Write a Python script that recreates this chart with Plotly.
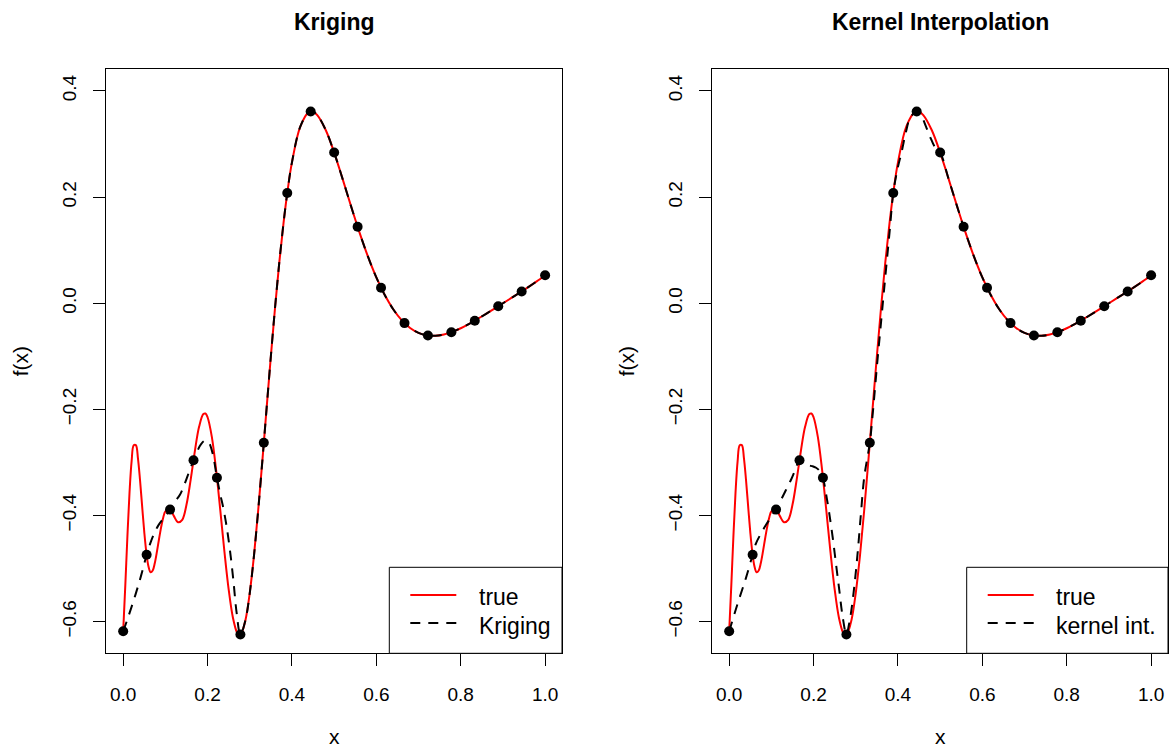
import plotly.graph_objects as go

# ---------------- data ----------------
true_x = [0.000, 0.005, 0.010, 0.015, 0.020, 0.025, 0.030, 0.035, 0.040, 0.045,
          0.050, 0.055, 0.060, 0.065, 0.070, 0.075, 0.080, 0.085, 0.090, 0.095,
          0.100, 0.110, 0.120, 0.130, 0.140, 0.150, 0.160, 0.170, 0.180, 0.190,
          0.195, 0.200, 0.210, 0.220, 0.230, 0.240, 0.250, 0.260, 0.270, 0.275,
          0.280, 0.290, 0.300, 0.310, 0.320, 0.330, 0.340, 0.350, 0.360, 0.370,
          0.380, 0.390, 0.400, 0.420, 0.440, 0.450, 0.460, 0.480, 0.500, 0.520,
          0.540, 0.560, 0.580, 0.600, 0.620, 0.640, 0.660, 0.680, 0.700, 0.720,
          0.740, 0.760, 0.780, 0.800, 0.820, 0.840, 0.860, 0.880, 0.900, 0.920,
          0.940, 0.960, 0.980, 1.000]
true_y = [-0.6182, -0.5321, -0.4394, -0.3571, -0.2976, -0.2676, -0.2673, -0.2921, -0.3340, -0.3833,
          -0.4312, -0.4702, -0.4960, -0.5068, -0.5036, -0.4894, -0.4681, -0.4442, -0.4218, -0.4037,
          -0.3920, -0.3879, -0.4007, -0.4127, -0.4080, -0.3798, -0.3323, -0.2780, -0.2324, -0.2088,
          -0.2078, -0.2148, -0.2513, -0.3126, -0.3889, -0.4682, -0.5391, -0.5921, -0.6208, -0.6250,
          -0.6222, -0.5964, -0.5460, -0.4755, -0.3901, -0.2955, -0.1972, -0.0999, -0.0075, 0.0769,
          0.1512, 0.2143, 0.2655, 0.3334, 0.3602, 0.3609, 0.3547, 0.3265, 0.2840, 0.2344,
          0.1830, 0.1335, 0.0882, 0.0486, 0.0154, -0.0114, -0.0319, -0.0465, -0.0558, -0.0605,
          -0.0613, -0.0589, -0.0540, -0.0471, -0.0388, -0.0296, -0.0199, -0.0100, 0.0000, 0.0100,
          0.0201, 0.0304, 0.0412, 0.0529]

design_x = [0.0000, 0.0556, 0.1111, 0.1667, 0.2222, 0.2778, 0.3333, 0.3889, 0.4444, 0.5000,
            0.5556, 0.6111, 0.6667, 0.7222, 0.7778, 0.8333, 0.8889, 0.9444, 1.0000]
design_y = [-0.6182, -0.4738, -0.3888, -0.2959, -0.3287, -0.6243, -0.2629, 0.2078, 0.3614, 0.2840,
            0.1442, 0.0293, -0.0374, -0.0608, -0.0546, -0.0328, -0.0056, 0.0223, 0.0529]

# Kriging predictor on the wiggly part (beyond x=0.29 it lies on the true curve)
krig_x_low = [0.0000, 0.0120, 0.0240, 0.0360, 0.0460, 0.0556, 0.0640, 0.0728, 0.0830, 0.0950,
              0.1111, 0.1226, 0.1345, 0.1463, 0.1560, 0.1667, 0.1760, 0.1850, 0.1940, 0.2030,
              0.2120, 0.2222, 0.2300, 0.2371, 0.2452, 0.2530, 0.2610, 0.2690, 0.2778]
krig_y_low = [-0.6182, -0.5910, -0.5620, -0.5310, -0.5030, -0.4738, -0.4530, -0.4350, -0.4190, -0.4060,
              -0.3888, -0.3740, -0.3610, -0.3390, -0.3180, -0.2959, -0.2780, -0.2650, -0.2590, -0.2630,
              -0.2830, -0.3287, -0.3600, -0.3850, -0.4210, -0.4650, -0.5210, -0.5840, -0.6243]

# Kernel interpolation predictor up to x=0.5 (beyond it lies on the true curve)
kern_x_low = [0.0000, 0.0200, 0.0400, 0.0556, 0.0633, 0.0752, 0.0870, 0.1000, 0.1111, 0.1226,
              0.1345, 0.1463, 0.1560, 0.1667, 0.1750, 0.1819, 0.1900, 0.1977, 0.2060, 0.2134,
              0.2222, 0.2293, 0.2372, 0.2451, 0.2530, 0.2609, 0.2688, 0.2778, 0.2840, 0.2886,
              0.2965, 0.3044, 0.3123, 0.3202, 0.3333, 0.3400, 0.3500, 0.3600, 0.3700, 0.3800,
              0.3889, 0.3984, 0.4088, 0.4190, 0.4285, 0.4444, 0.4562, 0.4665, 0.4760, 0.4878,
              0.5000]
kern_y_low = [-0.6182, -0.5660, -0.5170, -0.4738, -0.4530, -0.4340, -0.4180, -0.4020, -0.3888, -0.3710,
              -0.3520, -0.3330, -0.3150, -0.2959, -0.3010, -0.3040, -0.3060, -0.3070, -0.3100, -0.3150,
              -0.3287, -0.3580, -0.3960, -0.4400, -0.4900, -0.5400, -0.5900, -0.6243, -0.6050, -0.5840,
              -0.5340, -0.4710, -0.3960, -0.3270, -0.2629, -0.2100, -0.1200, -0.0350, 0.0500, 0.1330,
              0.2078, 0.2510, 0.2856, 0.3230, 0.3485, 0.3614, 0.3516, 0.3328, 0.3139, 0.2940,
              0.2840]

titles = ["Kriging", "Kernel Interpolation"]
legend_labels = [["true", "Kriging"], ["true", "kernel int."]]
x_ticks = [0.0, 0.2, 0.4, 0.6, 0.8, 1.0]
x_ticktext = ["0.0", "0.2", "0.4", "0.6", "0.8", "1.0"]
y_ticks = [-0.6, -0.4, -0.2, 0.0, 0.2, 0.4]
y_ticktext = ["\u22120.6", "\u22120.4", "\u22120.2", "0.0", "0.2", "0.4"]

krig_x = krig_x_low + [v for v in true_x if v >= 0.29]
krig_y = krig_y_low + [w for v, w in zip(true_x, true_y) if v >= 0.29]
kern_x = kern_x_low + [v for v in true_x if v >= 0.52]
kern_y = kern_y_low + [w for v, w in zip(true_x, true_y) if v >= 0.52]
fits = [(krig_x, krig_y), (kern_x, kern_y)]

# ---------------- layout geometry ----------------
W, H = 1170, 749
FONT = "Liberation Sans, Arial, Helvetica, sans-serif"
DASH = "10px,8px"
panels_px = [(106.3, 562.0), (712.3, 1168.0)]
top_px, bot_px = 68.7, 653.3

def px(v):
    return v / W

def py(v):
    return 1 - v / H

fig = go.Figure()
shapes, annotations = [], []

for i in range(2):
    xa = "x" if i == 0 else "x2"
    ya = "y" if i == 0 else "y2"
    fx, fy = fits[i]
    fig.add_trace(go.Scatter(x=true_x, y=true_y, mode="lines", xaxis=xa, yaxis=ya,
                             line=dict(color="#FF0000", width=2, shape="spline", smoothing=1),
                             showlegend=False, hoverinfo="skip"))
    fig.add_trace(go.Scatter(x=fx, y=fy, mode="lines", xaxis=xa, yaxis=ya,
                             line=dict(color="black", width=2, dash=DASH, shape="spline", smoothing=1),
                             showlegend=False, hoverinfo="skip"))
    fig.add_trace(go.Scatter(x=design_x, y=design_y, mode="markers", xaxis=xa, yaxis=ya,
                             marker=dict(color="black", size=10), showlegend=False, hoverinfo="skip"))

    l, r = panels_px[i]
    cx = (l + r) / 2
    axis_common = dict(showgrid=False, zeroline=False, showline=True, mirror=True,
                       linecolor="black", linewidth=1, ticks="outside", ticklen=12,
                       tickcolor="black", tickwidth=1,
                       tickfont=dict(family=FONT, size=19, color="black"))
    fig.update_layout(**{
        ("xaxis" if i == 0 else "xaxis2"): dict(
            domain=[px(l), px(r)], range=[-0.04, 1.04], anchor=ya,
            tickvals=x_ticks, ticktext=x_ticktext, ticklabelstandoff=12, **axis_common),
        ("yaxis" if i == 0 else "yaxis2"): dict(
            domain=[py(bot_px), py(top_px)], range=[-0.6596, 0.442], anchor=xa,
            tickvals=y_ticks, ticktext=y_ticktext, tickangle=-90, ticklabelstandoff=10,
            **axis_common),
    })

    # titles and axis labels
    annotations.append(dict(text="<b>" + titles[i] + "</b>", x=px(cx), y=py(22), xref="paper", yref="paper",
                            showarrow=False, xanchor="center", yanchor="middle",
                            font=dict(family=FONT, size=23, color="black")))
    annotations.append(dict(text="x", x=px(cx), y=py(736), xref="paper", yref="paper",
                            showarrow=False, xanchor="center", yanchor="middle",
                            font=dict(family=FONT, size=21, color="black")))
    annotations.append(dict(text="f(x)", x=px(l - 86), y=py((top_px + bot_px) / 2), xref="paper",
                            yref="paper", showarrow=False, xanchor="center", yanchor="middle",
                            textangle=-90, font=dict(family=FONT, size=21, color="black")))

    # legend box (drawn like R's legend)
    lg_left = 389.3 if i == 0 else 966.7
    shapes.append(dict(type="rect", xref="paper", yref="paper", x0=px(lg_left), x1=px(r),
                       y0=py(bot_px), y1=py(567.3), line=dict(color="black", width=1),
                       fillcolor="white", layer="above"))
    s0, s1 = lg_left + 21, lg_left + 67
    shapes.append(dict(type="line", xref="paper", yref="paper", x0=px(s0), x1=px(s1),
                       y0=py(595), y1=py(595), line=dict(color="#FF0000", width=2), layer="above"))
    shapes.append(dict(type="line", xref="paper", yref="paper", x0=px(s0), x1=px(s1),
                       y0=py(623), y1=py(623), line=dict(color="black", width=2, dash=DASH),
                       layer="above"))
    for j, yy in enumerate([597, 626]):
        annotations.append(dict(text=legend_labels[i][j], x=px(lg_left + 87.5), y=py(yy),
                                xref="paper", yref="paper", showarrow=False, xanchor="left",
                                yanchor="middle", font=dict(family=FONT, size=23, color="black")))

fig.update_layout(width=W, height=H, margin=dict(l=0, r=0, t=0, b=0),
                  paper_bgcolor="white", plot_bgcolor="white",
                  shapes=shapes, annotations=annotations, showlegend=False)

fig.write_html("out.html")
